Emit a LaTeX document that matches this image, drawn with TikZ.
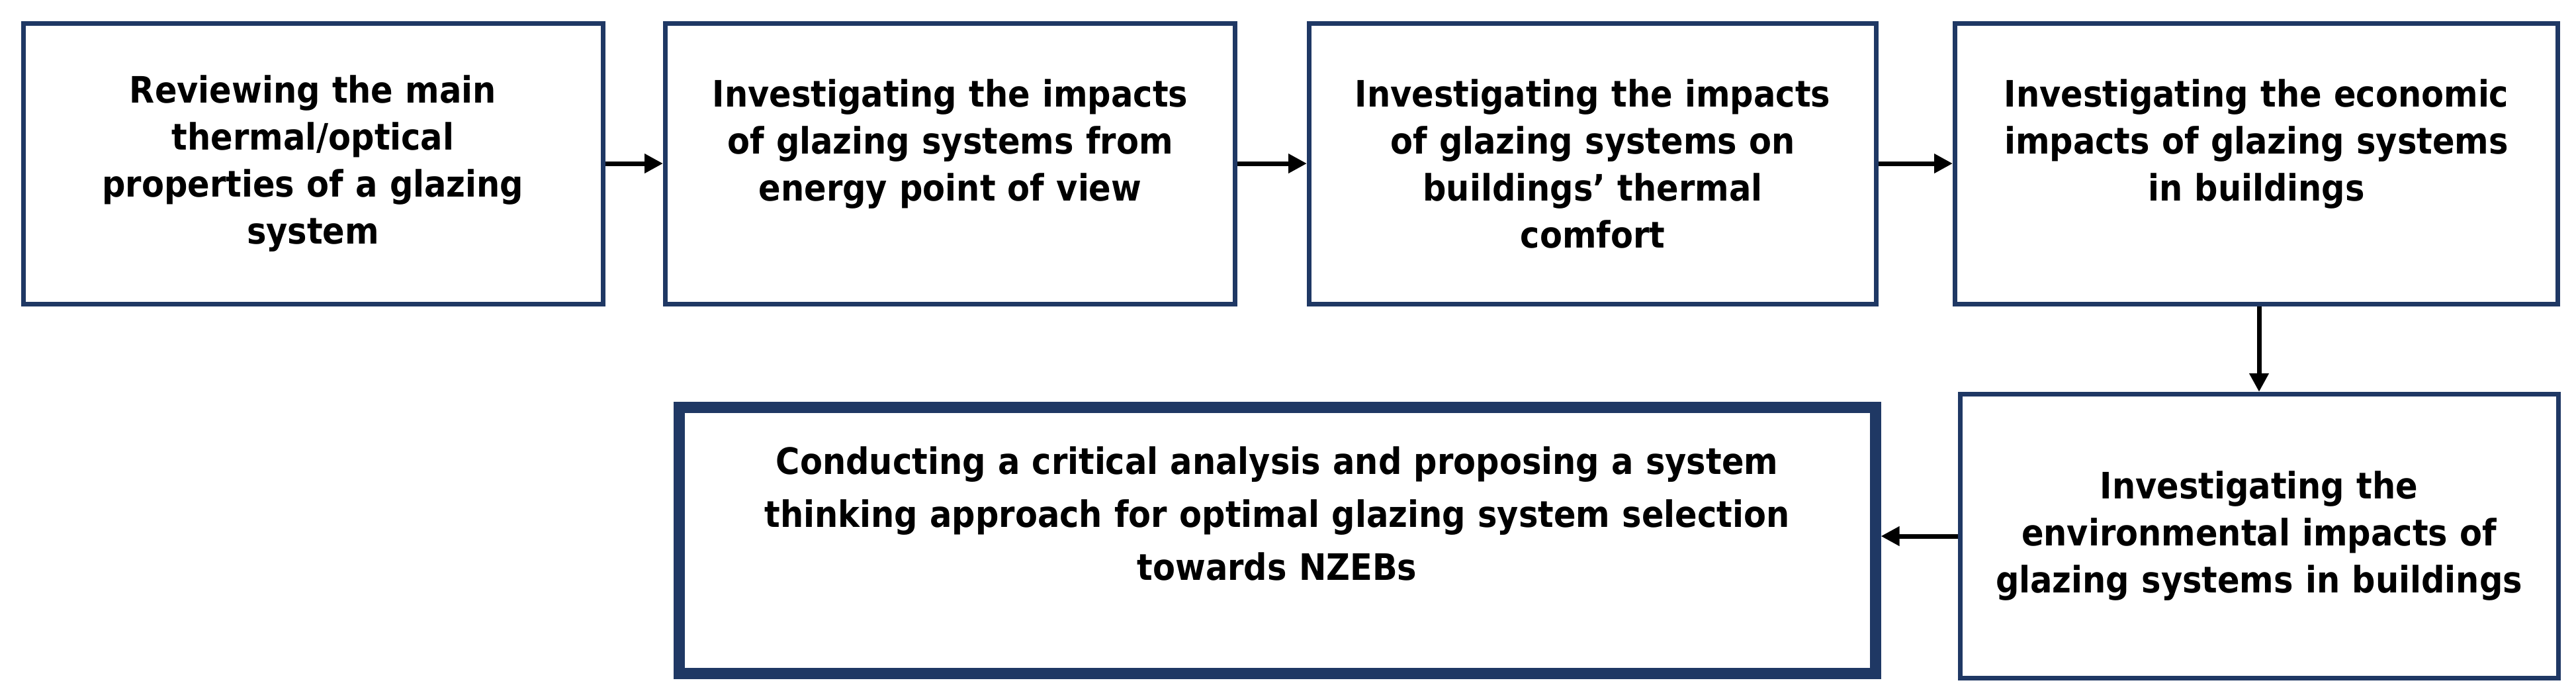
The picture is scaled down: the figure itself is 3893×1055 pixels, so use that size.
\documentclass[tikz,border=0pt]{standalone}
\usepackage{fontspec}
\setmainfont{DejaVu Sans Condensed}
\usetikzlibrary{arrows.meta}
\definecolor{navy}{HTML}{1F3864}
\begin{document}
\begin{tikzpicture}[x=1pt,y=-1pt,
  box/.style={draw=navy,line width=7pt,minimum height=424pt,align=center,inner sep=0pt,
    font=\fontsize{55}{71}\selectfont\bfseries},
  arr/.style={line width=7pt,-{Triangle[length=28pt,width=28pt]}}]
\useasboundingbox (0,0) rectangle (3893,1055);
\node[box,minimum width=876pt,text width=820pt] (b1) at (473,247) {Reviewing the main\\thermal/optical\\properties of a glazing\\system};
\node[box,minimum width=861pt,text width=840pt] (b2) at (1436,247) {Investigating the impacts\\of glazing systems from\\energy point of view\\\mbox{}};
\node[box,minimum width=857pt,text width=840pt] (b3) at (2407,247) {Investigating the impacts\\of glazing systems on\\buildings’ thermal\\comfort};
\node[box,minimum width=911pt,text width=880pt] (b4) at (3410,247) {Investigating the economic\\impacts of glazing systems\\in buildings\\\mbox{}};
\node[box,minimum width=904pt,minimum height=429pt,text width=880pt] (b5) at (3414,810) {Investigating the\\environmental impacts of\\glazing systems in buildings};
\node[box,line width=17pt,minimum width=1808pt,minimum height=402pt,text width=1760pt,font=\fontsize{55}{80}\selectfont\bfseries] (b6) at (1930,816) {Conducting a critical analysis and proposing a system\\thinking approach for optimal glazing system selection\\towards NZEBs\\\mbox{}};
\draw[arr] (b1) -- (b2);
\draw[arr] (b2) -- (b3);
\draw[arr] (b3) -- (b4);
\draw[arr] (b4.south -| 3414,0) -- (b5.north);
\draw[arr] (b5.west) -- (b6.east |- b5.west);
\end{tikzpicture}
\end{document}
